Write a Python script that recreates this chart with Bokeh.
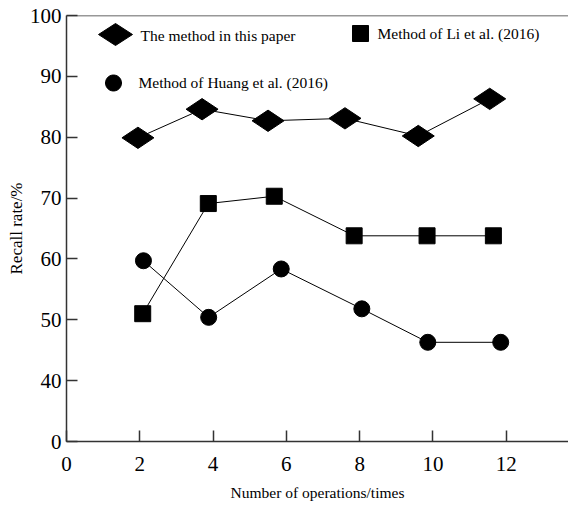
import numpy as np
from bokeh.plotting import figure
from bokeh.models import Range1d, FixedTicker, Label, PolyAnnotation, Span
from bokeh.embed import file_html
from bokeh.resources import INLINE

# ---- data ----
ops_paper = [1.95, 3.7, 5.5, 7.6, 9.6, 11.55]
recall_paper = [79.9, 84.6, 82.7, 83.1, 80.2, 86.3]

ops_li = [2.08, 3.87, 5.67, 7.85, 9.84, 11.65]
recall_li = [51.0, 69.1, 70.3, 63.8, 63.8, 63.8]

ops_huang = [2.1, 3.88, 5.86, 8.06, 9.86, 11.85]
recall_huang = [59.7, 50.4, 58.35, 51.8, 46.3, 46.3]

x_ticks = [0, 2, 4, 6, 8, 10, 12]
y_ticks = [30, 40, 50, 60, 70, 80, 90, 100]
y_tick_labels = ["0", "40", "50", "60", "70", "80", "90", "100"]

x_title = "Number of operations/times"
y_title = "Recall rate/%"
series_names = ["The method in this paper", "Method of Li et al. (2016)",
                "Method of Huang et al. (2016)"]

FONT = "'Liberation Serif', 'Times New Roman', serif"

p = figure(width=568, height=505, output_backend="svg", toolbar_location=None,
           x_range=Range1d(0, 13.7), y_range=Range1d(30, 100),
           min_border_left=66, min_border_right=0, min_border_top=15,
           min_border_bottom=64)
p.outline_line_color = None
p.xgrid.visible = False
p.ygrid.visible = False
p.background_fill_color = "white"
p.border_fill_color = "white"

# series
p.line(ops_paper, recall_paper, line_color="black", line_width=1)
p.scatter(ops_paper, recall_paper, marker="diamond", size=32, angle=np.pi / 2,
          fill_color="black", line_color="black")

p.line(ops_li, recall_li, line_color="black", line_width=1)
p.scatter(ops_li, recall_li, marker="square", size=16,
          fill_color="black", line_color="black")

p.line(ops_huang, recall_huang, line_color="black", line_width=1)
p.scatter(ops_huang, recall_huang, marker="circle", size=16,
          fill_color="black", line_color="black")

# axes
for ax in (p.xaxis[0], p.yaxis[0]):
    ax.axis_line_color = "#333333"
    ax.axis_line_width = 1.5
    ax.major_tick_line_color = "#333333"
    ax.major_tick_line_width = 1.5
    ax.major_tick_in = 11
    ax.major_tick_out = 0
    ax.minor_tick_line_color = None
    ax.major_label_text_font = FONT
    ax.major_label_text_font_size = "21px"
    ax.major_label_text_color = "black"
    ax.axis_label_text_font = FONT
    ax.axis_label_text_font_style = "normal"
    ax.axis_label_text_color = "black"

p.xaxis.ticker = FixedTicker(ticks=x_ticks)
p.xaxis.axis_label = x_title
p.xaxis.axis_label_text_font_size = "15.5px"
p.xaxis.major_label_standoff = 15
p.xaxis.axis_label_standoff = 10

p.yaxis.ticker = FixedTicker(ticks=y_ticks)
p.yaxis.major_label_overrides = {t: s for t, s in zip(y_ticks, y_tick_labels)}
p.yaxis.axis_label = y_title
p.yaxis.axis_label_text_font_size = "17px"
p.yaxis.major_label_standoff = 5
p.yaxis.axis_label_standoff = 1

# top border line
p.add_layout(Span(location=100, dimension="width", line_color="#333333", line_width=1.5))

# ---- legend (screen units, relative to the plot frame) ----
def poly(xs, ys):
    return PolyAnnotation(xs=list(xs), ys=list(ys), xs_units="screen", ys_units="screen",
                          fill_color="black", fill_alpha=1.0, line_color="black", line_alpha=1.0)

# diamond
dcx, dcy, dw, dh = 49, 407, 17, 11
p.add_layout(poly([dcx - dw, dcx, dcx + dw, dcx], [dcy, dcy + dh, dcy, dcy - dh]))
# square
scx, scy, sh = 294, 408, 8
p.add_layout(poly([scx - sh, scx + sh, scx + sh, scx - sh], [scy - sh, scy - sh, scy + sh, scy + sh]))
# circle
ccx, ccy, cr = 47, 358.5, 8
th = np.linspace(0, 2 * np.pi, 40, endpoint=False)
p.add_layout(poly(ccx + cr * np.cos(th), ccy + cr * np.sin(th)))

legend_pos = [(74, 406), (311, 408), (72, 359)]
for name, (lx, ly) in zip(series_names, legend_pos):
    p.add_layout(Label(x=lx, y=ly, x_units="screen", y_units="screen", text=name,
                       text_font=FONT, text_font_size="15.5px", text_color="black",
                       text_baseline="middle", text_align="left"))

open("out.html", "w").write(file_html(p, INLINE))
